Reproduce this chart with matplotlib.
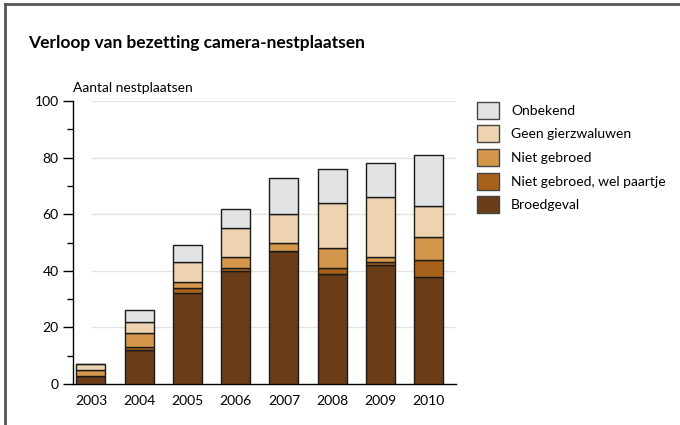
import numpy as np
import matplotlib
matplotlib.use("Agg")
import matplotlib.pyplot as plt
from matplotlib.lines import Line2D

plt.rcParams['font.family'] = ['Lato', 'DejaVu Sans']

jaren = ['2003', '2004', '2005', '2006', '2007', '2008', '2009', '2010']
broedgeval = [3, 12, 32, 40, 47, 39, 42, 38]
wel_paartje = [0, 1, 2, 1, 0, 2, 1, 6]
niet_gebroed = [2, 5, 2, 4, 3, 7, 2, 8]
geen_gierzwaluwen = [2, 4, 7, 10, 10, 16, 21, 11]
onbekend = [0, 4, 6, 7, 13, 12, 12, 18]

series = [
    ("Broedgeval", broedgeval, "#6a3c18"),
    ("Niet gebroed, wel paartje", wel_paartje, "#a8621c"),
    ("Niet gebroed", niet_gebroed, "#d3964a"),
    ("Geen gierzwaluwen", geen_gierzwaluwen, "#eed3b0"),
    ("Onbekend", onbekend, "#e2e3e5"),
]

fig = plt.figure(figsize=(6.8, 4.25), dpi=100)
ax = fig.add_axes([0.107, 0.0965, 0.564, 0.6655])

x = np.arange(len(jaren))
bottom = np.zeros(len(jaren))
handles = []
for name, vals, col in series:
    b = ax.bar(x, vals, 0.6, bottom=bottom, color=col, edgecolor="#1a1a1a",
               linewidth=1, label=name, zorder=3)
    handles.append(b)
    bottom += np.array(vals)

ax.hlines([20, 40, 60, 80, 100], 0, 7.57, colors="#e3e3e3", linewidth=1, zorder=1)

ax.set_xlim(-0.375, 7.57)
ax.set_ylim(0, 100)
ax.set_xticks(x)
ax.set_xticklabels(jaren, fontsize=10)
ax.tick_params(axis='x', length=0, pad=8)
ax.set_yticks([0, 20, 40, 60, 80, 100])
ax.set_yticks(range(10, 100, 20), minor=True)
ax.tick_params(axis='y', which='major', length=7, width=1, pad=3, labelsize=10)
ax.tick_params(axis='y', which='minor', length=4, width=1)
for s in ['top', 'right']:
    ax.spines[s].set_visible(False)
ax.spines['left'].set_linewidth(1)
ax.spines['bottom'].set_linewidth(1)

fig.text(73 / 680, 1 - 88 / 425, "Aantal nestplaatsen", fontsize=10, va='center', ha='left')
fig.text(28 / 680, 1 - 43 / 425, "Verloop van bezetting camera-nestplaatsen",
         fontsize=12.5, fontweight='bold', va='center', ha='left')

leg = fig.legend(handles[::-1], [s[0] for s in series][::-1],
                 loc='upper left', bbox_to_anchor=(474 / 680, 1 - 99 / 425),
                 frameon=False, fontsize=10, handlelength=1.6, handleheight=1.5,
                 labelspacing=0.48, handletextpad=0.86, borderaxespad=0, borderpad=0.2)
for p in leg.get_patches():
    p.set_edgecolor("#444444")

fig.add_artist(Line2D([5 / 680, 1], [1 - 4 / 425, 1 - 4 / 425], color="#555555", linewidth=2))
fig.add_artist(Line2D([5 / 680, 5 / 680], [0, 1 - 4 / 425], color="#555555", linewidth=2))

fig.savefig("out.png", dpi=100)
